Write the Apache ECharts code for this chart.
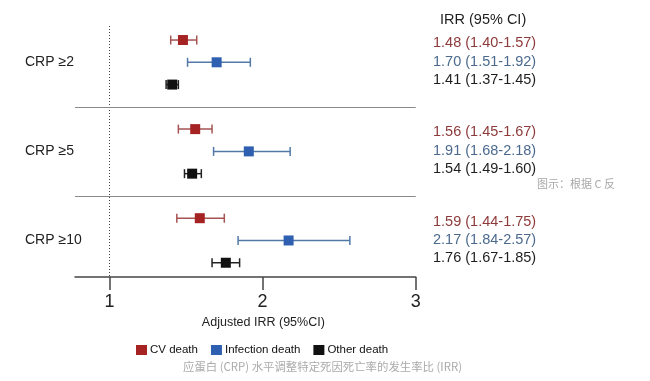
<!DOCTYPE html>
<html>
<head>
<meta charset="utf-8">
<script src="https://cdn.jsdelivr.net/npm/echarts@6/dist/echarts.min.js"></script>
<style>html,body{margin:0;padding:0;background:#fff;}#c{width:650px;height:381px;}</style>
</head>
<body>
<div id="c"></div>
<script>
// ---- data ----
var groups = ['CRP \u22652', 'CRP \u22655', 'CRP \u226510'];
var seriesNames = ['CV death', 'Infection death', 'Other death'];
var cvDeath        = [[1.48, 1.40, 1.57], [1.56, 1.45, 1.67], [1.59, 1.44, 1.75]];
var infectionDeath = [[1.70, 1.51, 1.92], [1.91, 1.68, 2.18], [2.17, 1.84, 2.57]];
var otherDeath     = [[1.41, 1.37, 1.45], [1.54, 1.49, 1.60], [1.76, 1.67, 1.85]];
var xTicks = [1, 2, 3];
var headerText = 'IRR (95% CI)';
var xAxisTitle = 'Adjusted IRR (95%CI)';
var captionText = '\u5e94\u86cb\u767d (CRP) \u6c34\u5e73\u8c03\u6574\u7279\u5b9a\u6b7b\u56e0\u6b7b\u4ea1\u7387\u7684\u53d1\u751f\u7387\u6bd4 (IRR)';
var watermarkText = '\u56fe\u793a\uff1a\u6839\u636e C \u53cd';

// ---- styles ----
var FONT = '"Liberation Sans", Arial, sans-serif';
var CJK = '"Noto Sans CJK SC", sans-serif';
var squareColors = ['#a62323', '#2f5fb0', '#111111'];
var whiskerColors = ['#a55353', '#5279a6', '#222222'];
var textColors = ['#8e3a3a', '#4b6a8e', '#1e1e1e'];
var allData = [cvDeath, infectionDeath, otherDeath];

function rowPos(g, s) { return g * 4 + s; }

function makeSeries(si) {
  var data = allData[si].map(function (d, g) { return [d[0], d[1], d[2], rowPos(g, si)]; });
  return {
    type: 'custom',
    name: seriesNames[si],
    clip: false,
    itemStyle: { color: squareColors[si] },
    encode: { x: [0, 1, 2], y: 3 },
    data: data,
    renderItem: function (params, api) {
      var y = api.value(3);
      var pe = api.coord([api.value(0), y]);
      var pl = api.coord([api.value(1), y]);
      var ph = api.coord([api.value(2), y]);
      var cap = 4.5, half = 5;
      var ls = { stroke: whiskerColors[si], lineWidth: 1.5 };
      return {
        type: 'group',
        children: [
          { type: 'line', shape: { x1: pl[0], y1: pl[1], x2: ph[0], y2: ph[1] }, style: ls },
          { type: 'line', shape: { x1: pl[0], y1: pl[1] - cap, x2: pl[0], y2: pl[1] + cap }, style: ls },
          { type: 'line', shape: { x1: ph[0], y1: ph[1] - cap, x2: ph[0], y2: ph[1] + cap }, style: ls },
          { type: 'rect', shape: { x: pe[0] - half, y: pe[1] - half, width: half * 2, height: half * 2 },
            style: { fill: squareColors[si] } }
        ]
      };
    }
  };
}

var series = [makeSeries(0), makeSeries(1), makeSeries(2)];
series[0].markLine = {
  silent: true, symbol: 'none', animation: false,
  label: { show: false },
  data: [
    { xAxis: 1, lineStyle: { type: [1, 2], color: '#444', width: 1 } },
    { yAxis: 3, lineStyle: { type: 'solid', color: '#8a8a8a', width: 1 } },
    { yAxis: 7, lineStyle: { type: 'solid', color: '#8a8a8a', width: 1 } }
  ]
};

// label text series
var labelData = [];
allData.forEach(function (arr, si) {
  arr.forEach(function (d, g) { labelData.push([g, si, d[0], d[1], d[2]]); });
});
series.push({
  type: 'custom',
  name: 'labels',
  clip: false,
  silent: true,
  data: labelData,
  encode: { x: 2, y: 0 },
  renderItem: function (params, api) {
    var g = api.value(0), si = api.value(1);
    var base = api.coord([1, rowPos(g, 1)]);
    var txt = api.value(2).toFixed(2) + ' (' + api.value(3).toFixed(2) + '-' + api.value(4).toFixed(2) + ')';
    return {
      type: 'text',
      style: {
        x: 433, y: base[1] - 0.6 + (si - 1) * 18.35,
        text: txt, fill: textColors[si],
        font: '14.5px ' + FONT, textAlign: 'left', textVerticalAlign: 'middle'
      }
    };
  }
});

var chart = echarts.init(document.getElementById('c'), null, { renderer: 'canvas' });
chart.setOption({
  animation: false,
  backgroundColor: '#ffffff',
  grid: { left: 75, right: 234.3, top: 26, bottom: 104, containLabel: false },
  xAxis: {
    type: 'value', min: 0.775, max: 3, position: 'bottom',
    axisLine: { onZero: false, lineStyle: { color: '#444', width: 1.5 } },
    axisTick: { show: true, length: 13, customValues: xTicks, lineStyle: { color: '#444', width: 1.5 } },
    axisLabel: { customValues: xTicks, margin: 16, fontSize: 18, color: '#222', fontFamily: FONT },
    splitLine: { show: false },
    name: xAxisTitle, nameLocation: 'middle', nameGap: 39,
    nameTextStyle: { fontSize: 12.5, color: '#222', fontFamily: FONT, padding: [0, 0, 0, 36] }
  },
  yAxis: {
    type: 'value', inverse: true, min: -0.63, max: 10.64,
    axisLine: { show: false }, axisTick: { show: false }, splitLine: { show: false },
    axisLabel: {
      customValues: [rowPos(0, 1), rowPos(1, 1), rowPos(2, 1)],
      formatter: function (v) { return groups[Math.round((v - 1) / 4)]; },
      align: 'left', margin: 50, fontSize: 14, color: '#222', fontFamily: FONT
    }
  },
  legend: {
    data: seriesNames, left: 136, top: 344, padding: 0, icon: 'rect', itemWidth: 11, itemHeight: 10, itemGap: 13,
    textStyle: { fontSize: 11.5, color: '#111', fontFamily: FONT, padding: [0, 0, 0, -2] }
  },
  graphic: [
    { type: 'text', left: 440, top: 12, silent: true,
      style: { text: headerText, font: '14.5px ' + FONT, fill: '#1e1e1e' } },
    { type: 'text', x: 537, y: 184, silent: true,
      style: { text: watermarkText, font: '11px ' + CJK, fill: '#a8a8a8', textVerticalAlign: 'middle' } },
    { type: 'text', x: 322.5, y: 367, silent: true,
      style: { text: captionText, font: '11.4px ' + CJK, fill: '#ababab', textAlign: 'center', textVerticalAlign: 'middle' } }
  ],
  series: series
});
</script>
</body>
</html>
